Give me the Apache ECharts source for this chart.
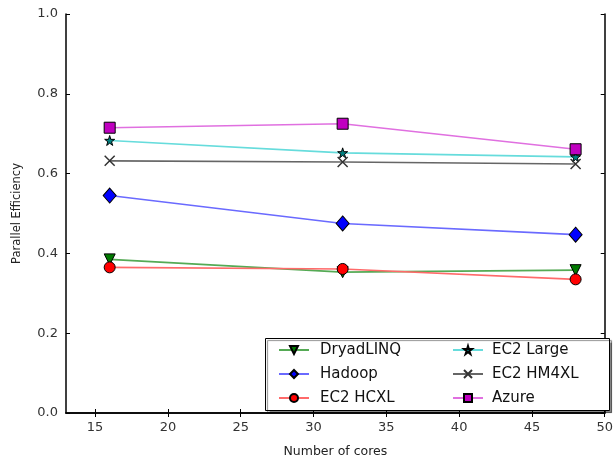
<!DOCTYPE html>
<html>
<head>
<meta charset="utf-8">
<script src="https://cdn.jsdelivr.net/npm/echarts@6/dist/echarts.min.js"></script>
<style>html,body{margin:0;padding:0;background:#fff}#c{width:616px;height:463px}</style>
</head>
<body>
<div id="c"></div>
<script>
var cores = [16, 32, 48];
var dryadLINQ = [0.385, 0.353, 0.358];
var hadoop = [0.545, 0.475, 0.447];
var ec2HCXL = [0.365, 0.361, 0.335];
var ec2Large = [0.683, 0.652, 0.642];
var ec2HM4XL = [0.632, 0.629, 0.624];
var azure = [0.715, 0.725, 0.661];
var xTicks = [15, 20, 25, 30, 35, 40, 45, 50];
var yTicks = [0.0, 0.2, 0.4, 0.6, 0.8, 1.0];

var STAR = 'path://M50,0 L61,35 L98,35 L68,57 L79,91 L50,70 L21,91 L32,57 L2,35 L39,35 Z';
var XMARK = 'path://M0,0 L10,10 M10,0 L0,10';

function pts(arr) { return cores.map(function (c, i) { return [c, arr[i]]; }); }

function mk(name, data, lineColor, markColor, symbol, size, extra) {
  var s = {
    name: name, type: 'line', data: pts(data),
    symbol: symbol, symbolSize: size,
    lineStyle: { color: lineColor, width: 1.6 },
    itemStyle: { color: markColor, borderColor: '#000', borderWidth: 1 },
    emphasis: { disabled: true }, animation: false, z: 3
  };
  if (extra) for (var k in extra) s[k] = extra[k];
  return s;
}

var series = [
  mk('DryadLINQ', dryadLINQ, '#55aa55', '#007a00', 'triangle', 11, { symbolRotate: 180 }),
  mk('Hadoop', hadoop, '#6a6aff', '#0000ff', 'diamond', [13, 15]),
  mk('EC2 HCXL', ec2HCXL, '#ff6a6a', '#ff0000', 'circle', 11),
  mk('EC2 Large', ec2Large, '#66dcdc', '#008080', STAR, 10),
  mk('EC2 HM4XL', ec2HM4XL, '#666666', '#444444', XMARK, 10),
  mk('Azure', azure, '#e070e0', '#c000c0', 'rect', 11)
];
series[4].itemStyle = { color: 'none', borderColor: '#333', borderWidth: 1.5 };

var chart = echarts.init(document.getElementById('c'), null, { renderer: 'canvas' });
var axisLine = { show: true, lineStyle: { color: '#000', width: 1.5 } };
var tick = { show: true, inside: true, length: 4, lineStyle: { color: '#000', width: 1 } };
var font = 'DejaVu Sans';

function legendOf(names, left, pad) {
  return {
    data: names,
    orient: 'vertical', left: left, top: 337, z: 60,
    itemWidth: 30, itemHeight: 10, itemGap: 8,
    selectedMode: false,
    textStyle: { fontFamily: font, fontSize: 15, color: '#111', padding: [0, 0, 0, pad], lineHeight: 16 }
  };
}

chart.setOption({
  backgroundColor: '#fff',
  animation: false,
  grid: { left: 66, right: 9, top: 14, bottom: 45 },
  xAxis: [{
    type: 'value', min: 13, max: 50, position: 'bottom',
    name: 'Number of cores', nameLocation: 'middle', nameGap: 32,
    nameTextStyle: { fontFamily: font, fontSize: 12.5, color: '#222' },
    axisLine: axisLine,
    axisTick: Object.assign({}, tick, { customValues: xTicks }),
    axisLabel: { customValues: xTicks, fontFamily: font, fontSize: 13, color: '#333', margin: 8 },
    splitLine: { show: false }
  }, {
    type: 'value', min: 13, max: 50, position: 'top',
    axisLine: axisLine,
    axisTick: Object.assign({}, tick, { customValues: xTicks }),
    axisLabel: { show: false },
    splitLine: { show: false }
  }],
  yAxis: [{
    type: 'value', min: 0, max: 1, interval: 0.2, position: 'left',
    name: 'Parallel Efficiency', nameLocation: 'middle', nameGap: 43,
    nameTextStyle: { fontFamily: font, fontSize: 11.5, color: '#222' },
    axisLine: axisLine, axisTick: tick,
    axisLabel: { fontFamily: font, fontSize: 13, color: '#333', margin: 8,
      formatter: function (v) { return v.toFixed(1); } },
    splitLine: { show: false }
  }, {
    type: 'value', min: 0, max: 1, interval: 0.2, position: 'right',
    axisLine: axisLine, axisTick: tick, axisLabel: { show: false },
    splitLine: { show: false }
  }],
  graphic: [{
    type: 'rect', left: 265, top: 338, z: 50,
    shape: { width: 344, height: 72 },
    style: { fill: '#fff', stroke: '#000', lineWidth: 1,
      shadowColor: 'rgba(0,0,0,0.45)', shadowOffsetX: 2, shadowOffsetY: 2, shadowBlur: 1 }
  }],
  legend: [
    legendOf(['DryadLINQ', 'Hadoop', 'EC2 HCXL'], 273, 6),
    legendOf(['EC2 Large', 'EC2 HM4XL', 'Azure'], 447, 4)
  ],
  series: series
});
</script>
</body>
</html>
